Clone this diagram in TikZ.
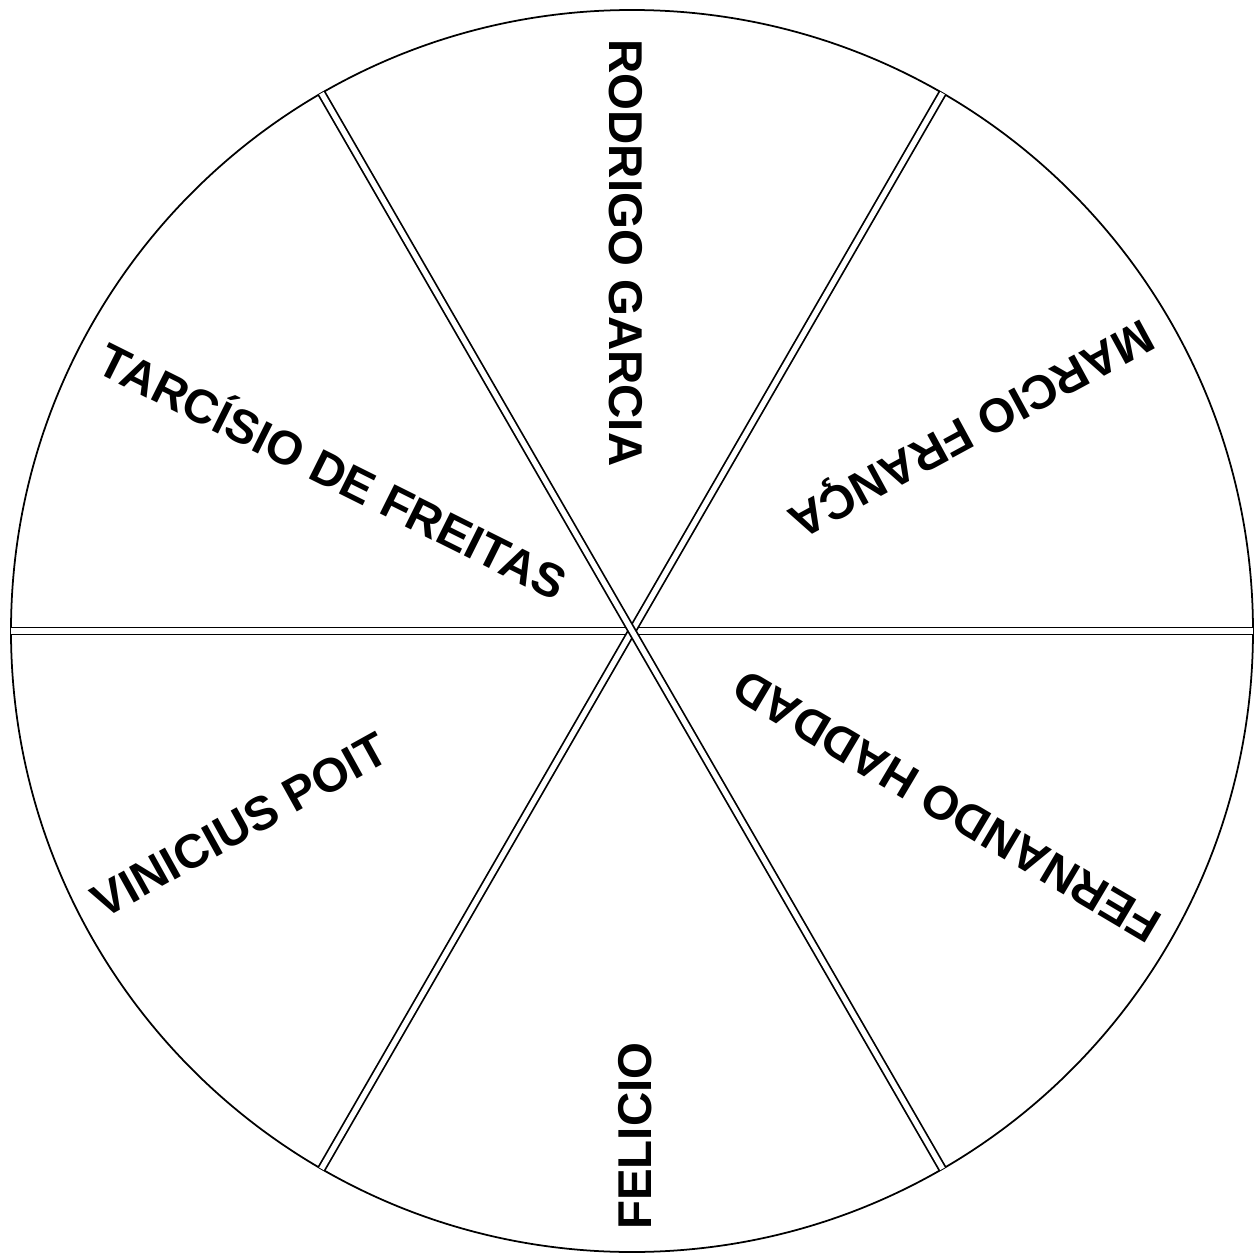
\documentclass[tikz,border=0pt]{standalone}
\usepackage{fontspec}
\setmainfont{Liberation Sans}

\begin{document}
\begin{tikzpicture}[nome/.style={font=\fontsize{27}{32}\selectfont\bfseries,inner sep=0pt,anchor=west,text height=19.3pt,text depth=0pt}]
            \useasboundingbox (-12.64,-12.54) rectangle (12.46,12.62);
            \draw [line width=1pt] (0,0) circle [radius=12.42];
            \foreach \a in {0,60,120}
                \draw [double,double distance=3pt,line width=1pt] (\a:12.42) -- (\a+180:12.42);
            \node [nome,rotate=-90] (rodrigo) at (-0.11,11.84) {RODRIGO GARCIA};
            \node [nome,rotate=208.5] (marcio) at (10.37,5.96) {MARCIO FRANÇA};
            \node [nome,rotate=149.3] (fernando) at (10.49,-6.01) {FERNANDO HADDAD};
            \node [nome,rotate=90] (felicio) at (0.05,-11.98) {FELICIO};
            \node [nome,rotate=29] (vinicius) at (-10.74,-5.48) {VINICIUS POIT};
            \node [nome,rotate=-26.5] (tarcisio) at (-10.60,5.49) {TARCÍSIO DE FREITAS};
        \end{tikzpicture}
\end{document}
